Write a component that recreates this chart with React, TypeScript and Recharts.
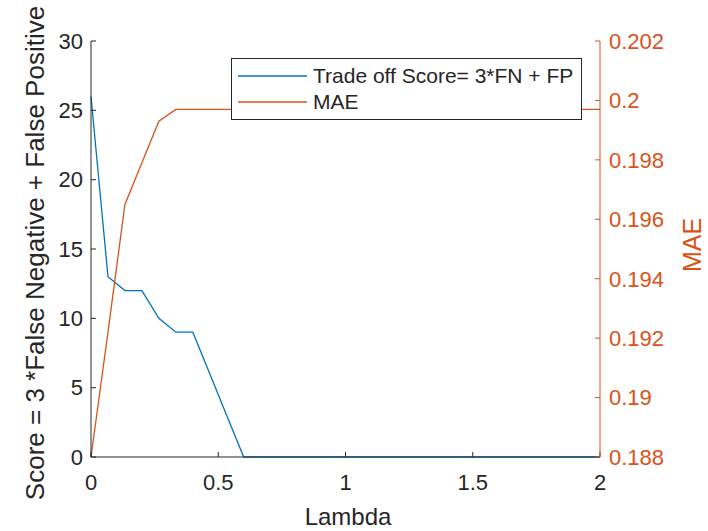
import React from "react";
import { LineChart, Line, XAxis, YAxis, Legend } from "recharts";

// lambda sampled in steps of 1/15
const lambda = [
    0, 0.0667, 0.1333, 0.2, 0.2667, 0.3333, 0.4, 0.4667, 0.5333, 0.6, 0.6667, 0.7333, 0.8, 0.8667, 0.9333, 1.0,
    1.0667, 1.1333, 1.2, 1.2667, 1.3333, 1.4, 1.4667, 1.5333, 1.6, 1.6667, 1.7333, 1.8, 1.8667, 1.9333, 2.0
];
const score = [
    26, 13, 12, 12, 10, 9, 9, 6, 3, 0, 0, 0, 0, 0, 0, 0,
    0, 0, 0, 0, 0, 0, 0, 0, 0, 0, 0, 0, 0, 0, 0
];
const mae = [
    0.188, 0.1922, 0.1965, 0.1979, 0.1993, 0.1997, 0.1997, 0.1997, 0.1997, 0.1997, 0.1997, 0.1997, 0.1997, 0.1997,
    0.1997, 0.1997, 0.1997, 0.1997, 0.1997, 0.1997, 0.1997, 0.1997, 0.1997, 0.1997, 0.1997, 0.1997, 0.1997, 0.1997,
    0.1997, 0.1997, 0.1997
];
const xTicks = [0, 0.5, 1, 1.5, 2];
const leftTicks = [0, 5, 10, 15, 20, 25, 30];
const rightTicks = [0.188, 0.19, 0.192, 0.194, 0.196, 0.198, 0.2, 0.202];
const legendOrder = ["score", "mae"];

const data = lambda.map((l, i) => ({ lambda: l, score: score[i], mae: mae[i] }));

const BLUE = "#0072BD";
const ORANGE = "#D95319";
const INK = "#262626";
const FONT = "'Liberation Sans', Arial, Helvetica, sans-serif";

const LegendBox = (props: any) => {
    const items = [...(props.payload || [])].sort(
        (a: any, b: any) => legendOrder.indexOf(a.dataKey) - legendOrder.indexOf(b.dataKey)
    );
    return (
        <svg width={351} height={62} style={{ display: "block", fontFamily: FONT }}>
            <rect x={0.5} y={0.5} width={350} height={61} fill="#fff" stroke={INK} strokeWidth={1} />
            {items.map((it: any, i: number) => (
                <g key={i}>
                    <line x1={7} x2={76} y1={18 + i * 26} y2={18 + i * 26} stroke={it.color} strokeWidth={1.3} />
                    <text x={82} y={18 + i * 26} dy="0.35em" fontSize={21} fill={INK}>
                        {it.value}
                    </text>
                </g>
            ))}
        </svg>
    );
};

export default function App() {
    return (
        <div style={{ position: "absolute", left: 0, top: 0, fontFamily: FONT, background: "#fff" }}>
            <LineChart width={708} height={531} data={data} margin={{ top: 41, right: 0, bottom: 0, left: 0 }}>
                <XAxis
                    dataKey="lambda"
                    type="number"
                    domain={[0, 2]}
                    ticks={xTicks}
                    interval={0}
                    height={74}
                    tickSize={-5}
                    tickMargin={22}
                    stroke={INK}
                    tick={{ fill: INK, fontSize: 22 }}
                    label={(p: any) => (
                        <text x={348} y={525} textAnchor="middle" fontSize={24} fill={INK}>
                            Lambda
                        </text>
                    )}
                />
                <XAxis
                    xAxisId="top"
                    orientation="top"
                    dataKey="lambda"
                    type="number"
                    domain={[0, 2]}
                    ticks={xTicks}
                    interval={0}
                    height={0}
                    tickSize={-5}
                    tickFormatter={() => ""}
                    stroke={INK}
                    label={(p: any) => (
                        <text x={345.5} y={30} textAnchor="middle" fontSize={24} fontWeight="bold" fill="#000">
                            FN-FP tradeoff values
                        </text>
                    )}
                />
                <YAxis
                    yAxisId="left"
                    orientation="left"
                    width={91}
                    domain={[0, 30]}
                    ticks={leftTicks}
                    interval={0}
                    tickSize={-5}
                    tickMargin={13}
                    stroke={INK}
                    tick={{ fill: INK, fontSize: 22 }}
                    label={(p: any) => (
                        <text
                            x={44}
                            y={253}
                            textAnchor="middle"
                            fontSize={26}
                            fill={INK}
                            transform="rotate(-90 44 253)"
                        >
                            Score = 3 *False Negative + False Positive
                        </text>
                    )}
                />
                <YAxis
                    yAxisId="right"
                    orientation="right"
                    width={108}
                    domain={[0.188, 0.202]}
                    ticks={rightTicks}
                    interval={0}
                    tickSize={-5}
                    tickMargin={14}
                    stroke={ORANGE}
                    tick={{ fill: ORANGE, fontSize: 22 }}
                    label={(p: any) => (
                        <text
                            x={701}
                            y={245}
                            textAnchor="middle"
                            fontSize={25}
                            fill={ORANGE}
                            transform="rotate(-90 701 245)"
                        >
                            MAE
                        </text>
                    )}
                />
                <Legend
                    layout="vertical"
                    align="center"
                    verticalAlign="middle"
                    content={<LegendBox />}
                    wrapperStyle={{ position: "absolute", left: 231, top: 58, width: 351, height: 62 }}
                />
                <Line
                    yAxisId="left"
                    dataKey="score"
                    name="Trade off Score= 3*FN + FP"
                    stroke={BLUE}
                    strokeWidth={1.3}
                    dot={false}
                    type="linear"
                    isAnimationActive={false}
                />
                <Line
                    yAxisId="right"
                    dataKey="mae"
                    name="MAE"
                    stroke={ORANGE}
                    strokeWidth={1.3}
                    dot={false}
                    type="linear"
                    isAnimationActive={false}
                />
            </LineChart>
        </div>
    );
}
